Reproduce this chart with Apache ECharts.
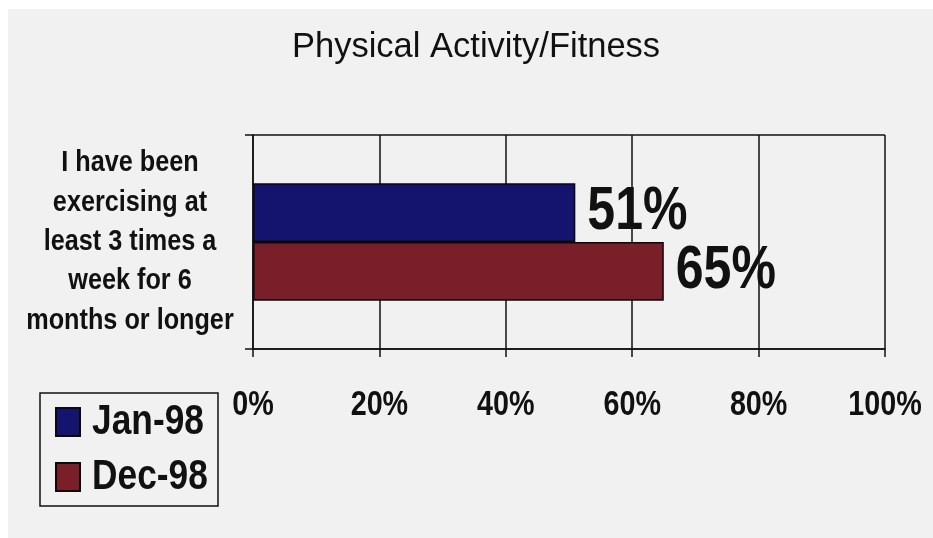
<!DOCTYPE html>
<html>
<head>
<meta charset="utf-8">
<script src="https://cdn.jsdelivr.net/npm/echarts@6/dist/echarts.min.js"></script>
<style>
html,body{margin:0;padding:0;background:#ffffff;}
#chart{width:933px;height:538px;}
</style>
</head>
<body>
<div id="chart"></div>
<script>
const titleText = 'Physical Activity/Fitness';
const categories = ['I have been\nexercising at\nleast 3 times a\nweek for 6\nmonths or longer'];
const seriesNames = ['Jan-98', 'Dec-98'];
const jan98 = [51];
const dec98 = [65];
const xTicks = [0, 20, 40, 60, 80, 100];

// font stacks (distinct strings so text can be narrowed after layout)
const NARROW = "'Liberation Sans', Arial, sans-serif";
const LEG = "'Liberation Sans', Arimo, sans-serif";
const CAT = "'Liberation Sans', Helvetica, sans-serif";
const SANS = "'Liberation Sans', sans-serif";
const narrowFactor = {};
narrowFactor[NARROW] = 0.82;
narrowFactor[LEG] = 0.84;
narrowFactor[CAT] = 0.87;
const INK = '#111111';

const chart = echarts.init(document.getElementById('chart'), null, {renderer: 'canvas'});
chart.setOption({
  backgroundColor: '#ffffff',
  animation: false,
  graphic: [
    {type: 'rect', z: -100, silent: true,
     shape: {x: 8, y: 9, width: 925, height: 529},
     style: {fill: '#f1f1f1'}},
    {type: 'rect', z: 100, silent: true,
     shape: {x: 40, y: 393, width: 178, height: 113},
     style: {fill: 'none', stroke: INK, lineWidth: 1.5}}
  ],
  title: {
    text: titleText,
    left: 292, top: 30, padding: 0,
    textStyle: {fontFamily: SANS, fontSize: 34.5, fontWeight: 'normal', color: INK}
  },
  legend: {
    orient: 'vertical',
    left: 40, top: 393,
    padding: [8, 8, 7, 15],
    itemGap: 13,
    itemWidth: 24, itemHeight: 28,
    icon: 'rect',
    data: seriesNames,
    textStyle: {fontFamily: LEG, fontSize: 42, fontWeight: 'bold', color: INK, lineHeight: 36, padding: [6, 0, 0, 14]}
  },
  grid: {left: 253, right: 48, top: 135, bottom: 189, containLabel: false},
  xAxis: {
    type: 'value', min: xTicks[0], max: xTicks[xTicks.length - 1], interval: 20,
    axisLine: {show: true, lineStyle: {color: INK, width: 1.5}},
    axisTick: {show: true, length: 8, lineStyle: {color: INK, width: 1.5}},
    splitLine: {show: true, lineStyle: {color: INK, width: 1.5}},
    axisLabel: {
      formatter: '{value}%', margin: 39,
      fontFamily: NARROW, fontSize: 35, fontWeight: 'bold', color: INK
    }
  },
  yAxis: {
    type: 'category', data: categories, inverse: true,
    axisLine: {show: true, lineStyle: {color: INK, width: 1.5}},
    axisTick: {show: true, length: 8, lineStyle: {color: INK, width: 1.5}},
    splitLine: {show: true, lineStyle: {color: INK, width: 1.5}},
    axisLabel: {
      margin: 123, align: 'center', lineHeight: 39.3, padding: [6, 0, 0, 0],
      fontFamily: CAT, fontSize: 29, fontWeight: 'bold', color: INK
    }
  },
  series: [
    {
      name: seriesNames[0], type: 'bar', data: jan98,
      barGap: '0%', barCategoryGap: '45%',
      itemStyle: {color: '#14146f', borderColor: '#0a0a0a', borderWidth: 1.5},
      label: {show: true, position: 'right', distance: 12, formatter: '{c}%',
        fontFamily: NARROW, fontSize: 61, fontWeight: 'bold', color: INK}
    },
    {
      name: seriesNames[1], type: 'bar', data: dec98,
      barGap: '0%', barCategoryGap: '45%',
      itemStyle: {color: '#7a1e2a', borderColor: '#0a0a0a', borderWidth: 1.5},
      label: {show: true, position: 'right', distance: 12, formatter: '{c}%',
        fontFamily: NARROW, fontSize: 61, fontWeight: 'bold', color: INK}
    }
  ]
});

// Narrow the condensed-looking texts (no narrow font is installed)
function narrowTexts() {
  const zr = chart.getZr();
  let changed = false;
  function visit(el) {
    if (!el) return;
    if (el.type === 'text' && el.style) {
      const fam = el.style.fontFamily || '';
      let f = narrowFactor[fam];
      if (!f && el.style.font) {
        for (const k in narrowFactor) { if (el.style.font.indexOf(k) >= 0) f = narrowFactor[k]; }
      }
      if (f && el.scaleX !== f) {
        el.scaleX = f;
        el.markRedraw();
        changed = true;
      }
    }
    if (el.getTextContent && el.getTextContent()) visit(el.getTextContent());
    if (el.isGroup) el.eachChild(visit);
  }
  zr.storage.getRoots().forEach(visit);
  if (changed) zr.refresh();
}
narrowTexts();
chart.on('rendered', narrowTexts);
</script>
</body>
</html>
